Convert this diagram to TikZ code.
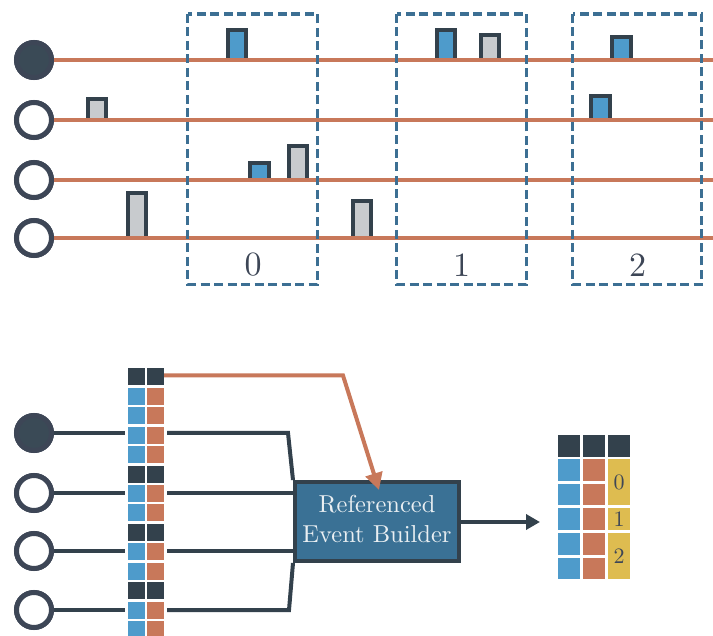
\documentclass[tikz,border=0pt]{standalone}
\usepackage{tikz}
\usepackage{graphicx}
\usetikzlibrary{arrows.meta}
\definecolor{darkc}{HTML}{33414C}
\definecolor{ringc}{HTML}{3D4656}
\definecolor{dotfill}{HTML}{3A4A56}
\definecolor{orangec}{HTML}{C8785A}
\definecolor{bluec}{HTML}{4E9BCB}
\definecolor{grayc}{HTML}{C8CBCE}
\definecolor{boxblue}{HTML}{3A7195}
\definecolor{dashc}{HTML}{3C6F93}
\definecolor{yellowc}{HTML}{DEBC50}
\definecolor{txtc}{HTML}{EAEFF2}
\begin{document}
\begin{tikzpicture}[x=1pt,y=-1pt,
  ring/.style={circle, draw=ringc, line width=5pt, minimum size=35pt, inner sep=0pt, fill=white},
  dot/.style={ring, fill=dotfill},
  orline/.style={draw=orangec, line width=4.5pt},
  dline/.style={draw=darkc, line width=4pt},
  barb/.style={draw=darkc, line width=4pt},
  dashbox/.style={draw=dashc, line width=3.6pt, dash pattern=on 9pt off 4.5pt},
  lbl/.style={text=ringc, inner sep=0pt},
  builder/.style={draw=darkc, line width=4pt, fill=boxblue, text=txtc,
     minimum width=164pt, minimum height=79pt, inner sep=0pt}
]
\useasboundingbox (0,0) rectangle (713,636);

% ---------- top: bars ----------
\foreach \xa/\xb/\tp/\ry/\fc in {226/248/28/60/bluec, 435/457/28/60/bluec, 479/501/33/60/grayc,
   610/633/35/60/bluec, 86/108/97/120/grayc, 589/612/94/120/bluec, 248/271/161/180/bluec,
   287/309/144/180/grayc, 126/148/191/238/grayc, 351/373/199/238/grayc}{
  \draw[barb, fill=\fc] (\xa+2,\ry) -- (\xa+2,\tp+2) -- (\xb-2,\tp+2) -- (\xb-2,\ry);
}

% ---------- top: circles and lines ----------
\node[dot]  (t1) at (34,60)  {};
\node[ring] (t2) at (34,120) {};
\node[ring] (t3) at (34,180) {};
\node[ring] (t4) at (34,238) {};
\coordinate (e1) at (713,60);
\coordinate (e2) at (713,120);
\coordinate (e3) at (713,180);
\coordinate (e4) at (713,238);
\foreach \i in {1,2,3,4}{ \draw[orline] (t\i.east) -- (e\i); }
\node[dot]  at (34,60)  {};
\node[ring] at (34,120) {};
\node[ring] at (34,180) {};
\node[ring] at (34,238) {};

% ---------- dashed windows ----------
\draw[dashbox] (187.5,14) rectangle (317.5,284.5);
\draw[dashbox] (396.5,14) rectangle (526.5,284.5);
\draw[dashbox] (572.5,14) rectangle (701.5,284.5);
\node[lbl] (l0) at (253,265) {\scalebox{3.4}{0}};
\node[lbl] (l1) at (461.5,265) {\scalebox{3.4}{1}};
\node[lbl] (l2) at (637.5,265) {\scalebox{3.4}{2}};

% ---------- bottom: stacks ----------
\foreach \i in {0,...,13}{
  \pgfmathsetmacro{\yy}{368.3+\i*19.45}
  \ifnum\i=0 \def\ca{darkc}\def\cb{darkc}\else
  \ifnum\i=5 \def\ca{darkc}\def\cb{darkc}\else
  \ifnum\i=8 \def\ca{darkc}\def\cb{darkc}\else
  \ifnum\i=11 \def\ca{darkc}\def\cb{darkc}\else
  \def\ca{bluec}\def\cb{orangec}\fi\fi\fi\fi
  \fill[\ca] (128.3,\yy) rectangle (145,\yy+17);
  \fill[\cb] (147.3,\yy) rectangle (164,\yy+17);
}
\coordinate (tc) at (164,375.5);

% ---------- bottom: circles and lines ----------
\node[dot]  (b1) at (34,433) {};
\node[ring] (b2) at (34,493) {};
\node[ring] (b3) at (34,551) {};
\node[ring] (b4) at (34,610) {};
\coordinate (w1) at (125,433); \coordinate (s1) at (167,433);
\coordinate (w2) at (125,493); \coordinate (s2) at (167,493);
\coordinate (w3) at (125,551); \coordinate (s3) at (167,551);
\coordinate (w4) at (125,610); \coordinate (s4) at (167,610);
\foreach \i in {1,2,3,4}{ \draw[dline] (b\i.east) -- (w\i); }
\node[dot]  at (34,433) {};
\node[ring] at (34,493) {};
\node[ring] at (34,551) {};
\node[ring] at (34,610) {};

\coordinate (k1) at (288,433);
\coordinate (k4) at (289,610);
\node[builder] (ebb) at (377,521.5) {\scalebox{2.45}{\begin{tabular}{@{}c@{}}Referenced\\Event Builder\end{tabular}}};
\draw[dline] (s1) -- (k1) -- (ebb.north west);
\draw[dline] (s4) -- (k4) -- (ebb.south west);
\draw[dline] (s2) -- (s2 -| ebb.west);
\draw[dline] (s3) -- (s3 -| ebb.west);
\node[builder] at (377,521.5) {\scalebox{2.45}{\begin{tabular}{@{}c@{}}Referenced\\Event Builder\end{tabular}}};

% ---------- arrows ----------
\coordinate (bend) at (343,375.5);
\coordinate (otip) at (379,490);
\draw[orline, line width=4pt, -{Triangle[length=17pt,width=17pt]}] (tc) -- (bend) -- (otip);
\coordinate (dtip) at (540,522);
\draw[dline, -{Triangle[length=14pt,width=15pt]}] (ebb.east |- dtip) -- (dtip);

% ---------- output table ----------
\foreach \xa/\xb in {558/580, 583/605, 608/630}{
  \fill[darkc] (\xa,435) rectangle (\xb,457);
}
\foreach \ya/\yb in {459/481, 484/505.5, 508/530, 533/555, 557.5/579}{
  \fill[bluec] (558,\ya) rectangle (580,\yb);
  \fill[orangec] (583,\ya) rectangle (605,\yb);
}
\fill[yellowc] (608,459) rectangle (630,505.5);
\fill[yellowc] (608,508) rectangle (630,530);
\fill[yellowc] (608,533) rectangle (630,579);
\node[lbl] (o0) at (619,482) {\scalebox{2.2}{0}};
\node[lbl] (o1) at (619,519) {\scalebox{2.2}{1}};
\node[lbl] (o2) at (619,556) {\scalebox{2.2}{2}};
\end{tikzpicture}
\end{document}
